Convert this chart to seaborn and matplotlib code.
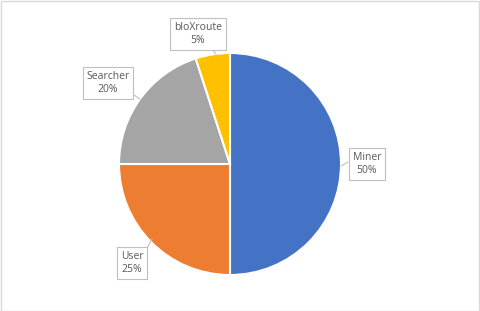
import matplotlib
matplotlib.use("Agg")
import matplotlib.pyplot as plt
import seaborn as sns
from matplotlib.patches import Rectangle

sns.set_theme(style="white")
plt.rcParams['font.family'] = ['Open Sans', 'DejaVu Sans']

categories = ["Miner", "User", "Searcher", "bloXroute"]
values = [50, 25, 20, 5]
colors = ["#4472C4", "#ED7D31", "#A5A5A5", "#FFC000"]

W, H = 480, 311
fig = plt.figure(figsize=(W / 100, H / 100), dpi=100)
ax = fig.add_axes([0, 0, 1, 1])
ax.set_xlim(0, W)
ax.set_ylim(0, H)
ax.set_aspect("equal")
ax.axis("off")

cx, cy, r = 230, H - 164, 111
ax.pie(values, colors=colors, startangle=90, counterclock=False,
       center=(cx, cy), radius=r, frame=True,
       wedgeprops=dict(edgecolor="white", linewidth=1.5))
ax.set_xlim(0, W)
ax.set_ylim(0, H)
ax.axis("off")

# label positions (pixel coords of box centres) and pointer tips
label_pos = {"Miner": (367, 164), "User": (132, 263),
             "Searcher": (108, 83), "bloXroute": (198, 34)}
pointer = {"Miner": ((348, 162), (341, 166)),
           "User": ((147, 248), (152, 239)),
           "Searcher": ((131, 93), (140, 99)),
           "bloXroute": ((212, 49), (216, 54))}

for cat, v in zip(categories, values):
    x, y = label_pos[cat]
    (x0, y0), (x1, y1) = pointer[cat]
    ax.plot([x0, x1], [H - y0, H - y1], color="#BFBFBF", lw=0.8, zorder=4)
    ax.text(x, H - y, f"{cat}\n{v}%", ha="center", va="center",
            fontsize=7.5, color="#595959", linespacing=1.3, zorder=5,
            bbox=dict(boxstyle="square,pad=0.35", fc="white", ec="#BFBFBF", lw=0.8))

fig.add_artist(Rectangle((0.5 / W, 0.5 / H), 1 - 1.5 / W, 1 - 1.5 / H,
                         transform=fig.transFigure, fill=False,
                         edgecolor="#D9D9D9", lw=1))

fig.savefig("out.png", dpi=100)
